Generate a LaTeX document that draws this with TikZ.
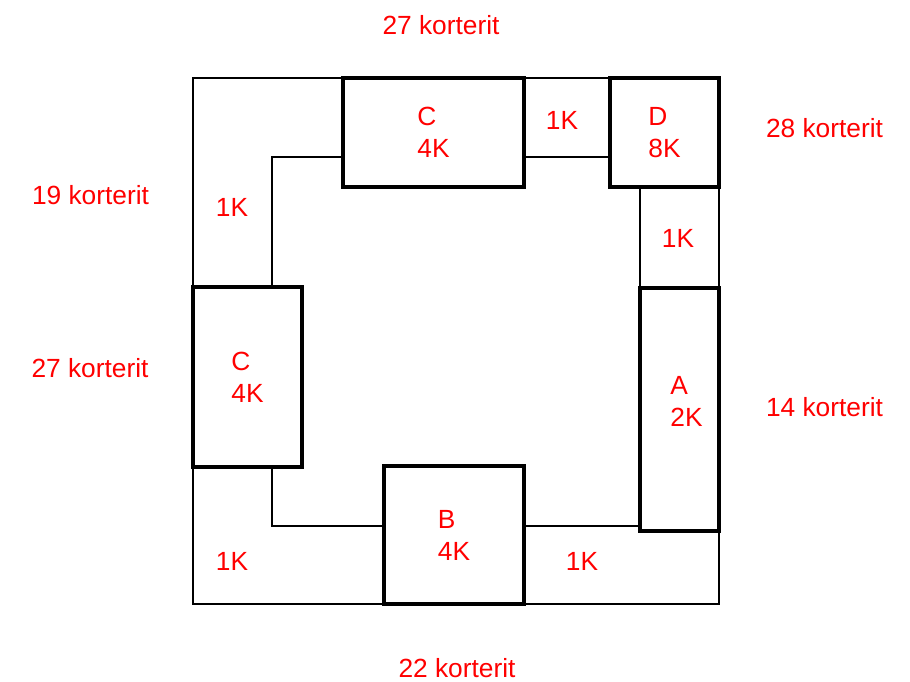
\documentclass[tikz,border=0pt]{standalone}
\usepackage{fontspec}
\setmainfont{Liberation Sans}
\definecolor{lblred}{RGB}{255,0,0}
\begin{document}
\begin{tikzpicture}[x=1pt,y=-1pt, line join=miter,
	font=\fontsize{26.3}{32}\selectfont,
	thin line/.style={line width=1.3pt},
	room/.style={draw,line width=3.8pt,inner sep=0pt,outer sep=0pt,align=left,text=lblred},
	lbl/.style={inner sep=0pt,text=lblred}]
\useasboundingbox (0,0) rectangle (910,682);
% rooms
\node[room,minimum width=181,minimum height=109] (cUp) at (433.5,132.5) {C\\4K};
\node[room,minimum width=109,minimum height=109] (dRoom) at (664.5,132.5) {D\\8K};
\node[room,minimum width=109,minimum height=180] (cLeft) at (247.5,377) {C\\4K};
\node[room,minimum width=140,minimum height=138] (bRoom) at (454,535) {B\\4K};
\node[room,minimum width=79,minimum height=243] (aRoom) at (679.5,409.5) {};
\node[lbl,align=left] (aText) at ([xshift=7,yshift=8]aRoom.center) {A\\2K};
% corners of the corridor
\coordinate (nw) at (193,78);
\coordinate (sw) at (193,604);
\coordinate (se) at (719,604);
\coordinate (inw) at (272,157);
\coordinate (isw) at (272,526);
\coordinate (ise) at (640,526);
% corridor walls
\draw[thin line] (cUp.north west) -- (nw) -- (cLeft.north west);
\draw[thin line] (inw -| cUp.west) -- (inw) -- (inw |- cLeft.north);
\draw[thin line] (cUp.north east) -- (dRoom.north west);
\draw[thin line] (inw -| cUp.east) -- (inw -| dRoom.west);
\draw[thin line] (ise |- dRoom.south) -- (aRoom.north west);
\draw[thin line] (dRoom.south east) -- (aRoom.north east);
\draw[thin line] (aRoom.south east) -- (se) -- (bRoom.south east);
\draw[thin line] (ise) -- (ise -| bRoom.east);
\draw[thin line] (bRoom.south west) -- (sw) -- (cLeft.south west);
\draw[thin line] (isw -| bRoom.west) -- (isw) -- (isw |- cLeft.south);
% corridor parts
\node[lbl] (k1) at (232,207) {1K};
\node[lbl] (k2) at (562,120) {1K};
\node[lbl] (k3) at (678,238) {1K};
\node[lbl] (k4) at (232,561) {1K};
\node[lbl] (k5) at (582,561) {1K};
% flats
\node[lbl] (fUp) at (441,25) {27 korterit};
\node[lbl] (fNE) at (824.5,128) {28 korterit};
\node[lbl] (fNW) at (90.5,195.5) {19 korterit};
\node[lbl] (fW) at (90,368) {27 korterit};
\node[lbl] (fE) at (824.5,407.5) {14 korterit};
\node[lbl] (fDown) at (457,668) {22 korterit};
\end{tikzpicture}
\end{document}
